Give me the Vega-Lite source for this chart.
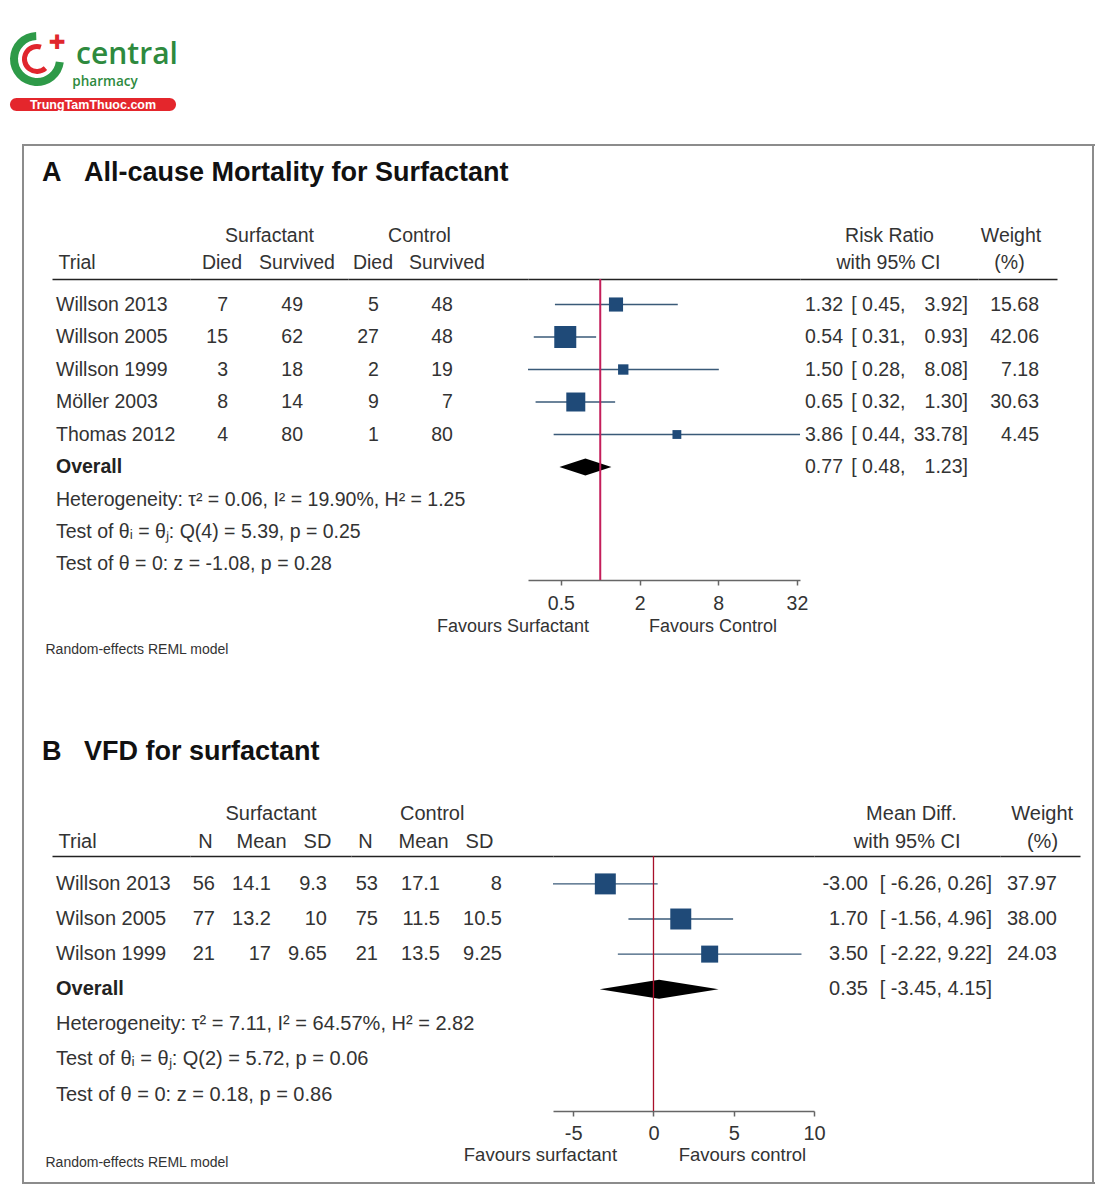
{
"$schema":"https://vega.github.io/schema/vega-lite/v6.json",
"padding":{"left":10,"top":32,"right":0,"bottom":0},
"background":"white",
"config":{"font":"Liberation Sans","view":{"stroke":null},"axis":{"grid":false},"text":{"color":"#333","fontSize":19.5}},
"datasets":{
"A":[
{"row":1,"label":"Willson 2013","sd":7,"ss":49,"cd":5,"cs":48,"rr":1.32,"lo":0.45,"hi":3.92,"w":15.68},
{"row":2,"label":"Willson 2005","sd":15,"ss":62,"cd":27,"cs":48,"rr":0.54,"lo":0.31,"hi":0.93,"w":42.06},
{"row":3,"label":"Willson 1999","sd":3,"ss":18,"cd":2,"cs":19,"rr":1.50,"lo":0.28,"hi":8.08,"w":7.18},
{"row":4,"label":"Möller 2003","sd":8,"ss":14,"cd":9,"cs":7,"rr":0.65,"lo":0.32,"hi":1.30,"w":30.63},
{"row":5,"label":"Thomas 2012","sd":4,"ss":80,"cd":1,"cs":80,"rr":3.86,"lo":0.44,"hi":33.78,"w":4.45},
{"row":6,"label":"Overall","rr":0.77,"lo":0.48,"hi":1.23},
{"row":7,"label":"Heterogeneity: \u03c4\u00b2 = 0.06, I\u00b2 = 19.90%, H\u00b2 = 1.25"},
{"row":8,"label":"Test of \u03b8\u1d62 = \u03b8\u2c7c: Q(4) = 5.39, p = 0.25"},
{"row":9,"label":"Test of \u03b8 = 0: z = -1.08, p = 0.28"}
],
"B":[
{"row":1,"label":"Willson 2013","n1":56,"m1":14.1,"s1":9.3,"n2":53,"m2":17.1,"s2":8,"md":-3.00,"lo":-6.26,"hi":0.26,"w":37.97},
{"row":2,"label":"Wilson 2005","n1":77,"m1":13.2,"s1":10,"n2":75,"m2":11.5,"s2":10.5,"md":1.70,"lo":-1.56,"hi":4.96,"w":38.00},
{"row":3,"label":"Wilson 1999","n1":21,"m1":17,"s1":9.65,"n2":21,"m2":13.5,"s2":9.25,"md":3.50,"lo":-2.22,"hi":9.22,"w":24.03},
{"row":4,"label":"Overall","md":0.35,"lo":-3.45,"hi":4.15},
{"row":5,"label":"Heterogeneity: \u03c4\u00b2 = 7.11, I\u00b2 = 64.57%, H\u00b2 = 2.82"},
{"row":6,"label":"Test of \u03b8\u1d62 = \u03b8\u2c7c: Q(2) = 5.72, p = 0.06"},
{"row":7,"label":"Test of \u03b8 = 0: z = 0.18, p = 0.86"}
]
},
"spacing":32,
"vconcat":[
{"spacing":9,"vconcat":[
 {"spacing":6,"hconcat":[
  {"width":54,"height":54,"data":{"values":[{}]},"layer":[
    {"mark":{"type":"arc","theta":1.7,"theta2":6.25,"radius":27,"radius2":19,"color":"#2e9a48"},"encoding":{}},
    {"mark":{"type":"arc","theta":2.4,"theta2":6.6,"radius":15,"radius2":10,"color":"#e0262d"},"encoding":{}},
    {"mark":{"type":"text","text":"✚","font":"DejaVu Sans","fontSize":20,"color":"#e0262d","align":"center","baseline":"middle","dx":20,"dy":-16},"encoding":{}}
  ]},
  {"width":110,"height":54,"data":{"values":[{}]},"layer":[
    {"mark":{"type":"text","text":"central","font":"Open Sans","fontWeight":600,"fontSize":30,"color":"#2e8a3e","align":"center","baseline":"alphabetic","dy":5},"encoding":{}},
    {"mark":{"type":"text","text":"pharmacy","font":"Open Sans","fontWeight":600,"fontSize":13.5,"color":"#2e8a3e","align":"center","baseline":"alphabetic","dx":-22,"dy":27},"encoding":{}}
  ]}
 ]},
 {"width":166,"height":13,"view":{"fill":"#e4262c","cornerRadius":6.5},"data":{"values":[{}]},"mark":{"type":"text","text":"TrungTamThuoc.com","color":"white","fontWeight":"bold","fontSize":12.5,"align":"center","baseline":"middle","dy":0.5},"encoding":{}}
]},
{"spacing":10,"hconcat":[
 {"width":2,"height":1,"data":{"values":[]},"mark":"rect","encoding":{}},
 {"spacing":0,"vconcat":[
  {"width":1073,"height":2,"data":{"values":[{}]},"mark":{"type":"rect","color":"#8c8c8c"},"encoding":{}},
  {"spacing":18,"hconcat":[
   {"width":2,"height":1036,"data":{"values":[{}]},"mark":{"type":"rect","color":"#8c8c8c"},"encoding":{}},
   {"spacing":12,"hconcat":[
    {"spacing":12,"vconcat":[
     {"width":1,"height":1,"data":{"values":[]},"mark":"rect","encoding":{}},
     {"spacing":82,"vconcat":[
      {"title":{"text":"A\u00a0\u00a0\u00a0All-cause Mortality for Surfactant","anchor":"start","frame":"group","dx":-10,"offset":38,"fontSize":27,"fontWeight":"bold","color":"#111"},
       "spacing":0,"bounds":"flush",
       "hconcat":[
        {"width":138,"height":301,"data":{"name":"A"},"resolve":{"axis":{"x":"independent"}},
         "layer":[
          {"transform":[{"filter":"datum.label !== 'Overall'"}],
           "mark":{"type":"text","align":"left","baseline":"middle","dx":4},
           "encoding":{
            "x":{"datum":"Trial","type":"nominal","scale":{"type":"point","domain":["Trial"],"align":0,"padding":0},
                 "axis":{"orient":"top","ticks":false,"tickSize":0,"domain":true,"domainColor":"#222","domainWidth":1.6,"labelPadding":11,"labelBaseline":"alphabetic","labelAngle":0,"labelOverlap":false,"labelFontSize":19.5,"labelColor":"#333","labelAlign":"left","labelOffset":6,"title":null,"grid":false}},
            "y":{"field":"row","type":"quantitative","scale":{"domain":[0.215,9.477],"reverse":true,"nice":false,"zero":false},"axis":null},
            "text":{"field":"label","type":"nominal"}}},
          {"transform":[{"filter":"datum.label === 'Overall'"}],
           "mark":{"type":"text","align":"left","baseline":"middle","dx":4,"fontWeight":"bold","color":"#222"},
           "encoding":{
            "x":{"datum":"Trial","type":"nominal","scale":{"type":"point","domain":["Trial"],"align":0,"padding":0},
                 "axis":{"orient":"bottom","labels":false,"ticks":false,"domain":false,"grid":false,"title":"Random-effects REML model","titleFontSize":14,"titleFontWeight":"normal","titleColor":"#333","titleX":-7,"titleY":73,"titleAlign":"left","titleBaseline":"alphabetic"}},
            "y":{"field":"row","type":"quantitative","scale":{"domain":[0.215,9.477],"reverse":true,"nice":false,"zero":false},"axis":null},
            "text":{"field":"label","type":"nominal"}}}
         ]},
        {"width":158,"height":301,"data":{"name":"A"},
         "transform":[{"filter":"isValid(datum.sd)"},{"fold":["sd","ss"],"as":["col","val"]}],
         "mark":{"type":"text","align":"right","baseline":"middle"},
         "encoding":{
          "x":{"field":"col","type":"nominal","scale":{"type":"point","domain":["sd","ss"],"padding":0.553,"align":0.458},
               "axis":{"orient":"top","ticks":false,"tickSize":0,"domain":true,"domainColor":"#222","domainWidth":1.6,"labelPadding":11,"labelBaseline":"alphabetic","labelAngle":0,"labelOverlap":false,"labelFontSize":19.5,"labelColor":"#333","titleFontSize":19.5,"titleFontWeight":"normal","titleColor":"#333","titleBaseline":"alphabetic","titleAlign":"center","titleY":-38,"grid":false,
                       "labelExpr":"datum.value === 'sd' ? 'Died' : 'Survived'","labelOffset":-6.5,"title":"Surfactant","titleX":79}},
          "y":{"field":"row","type":"quantitative","scale":{"domain":[0.215,9.477],"reverse":true,"nice":false,"zero":false},"axis":null},
          "text":{"field":"val","type":"nominal"}}},
        {"width":180,"height":301,"data":{"name":"A"},
         "transform":[{"filter":"isValid(datum.cd)"},{"fold":["cd","cs"],"as":["col","val"]}],
         "mark":{"type":"text","align":"right","baseline":"middle"},
         "encoding":{
          "x":{"field":"col","type":"nominal","scale":{"type":"point","domain":["cd","cs"],"padding":0.716,"align":0.292},
               "axis":{"orient":"top","ticks":false,"tickSize":0,"domain":true,"domainColor":"#222","domainWidth":1.6,"labelPadding":11,"labelBaseline":"alphabetic","labelAngle":0,"labelOverlap":false,"labelFontSize":19.5,"labelColor":"#333","titleFontSize":19.5,"titleFontWeight":"normal","titleColor":"#333","titleBaseline":"alphabetic","titleAlign":"center","titleY":-38,"grid":false,
                       "labelExpr":"datum.value === 'cd' ? 'Died' : 'Survived'","labelOffset":-6.5,"title":"Control","titleX":71}},
          "y":{"field":"row","type":"quantitative","scale":{"domain":[0.215,9.477],"reverse":true,"nice":false,"zero":false},"axis":null},
          "text":{"field":"val","type":"nominal"}}},
        {"width":272,"height":301,"data":{"name":"A"},"resolve":{"axis":{"x":"independent"}},
         "layer":[
          {"transform":[{"filter":"isValid(datum.w)"}],
           "mark":{"type":"rule","color":"#3a5a78","strokeWidth":1.3},
           "encoding":{
            "x":{"field":"lo","type":"quantitative","scale":{"type":"log","domain":[0.28,33.78],"nice":false},
                 "axis":{"orient":"bottom","values":[0.5,2,8,32],"format":"~g","ticks":true,"tickSize":5,"tickColor":"#666","tickWidth":1.5,"domain":true,"domainColor":"#666","domainWidth":1.5,"labelPadding":24,"labelBaseline":"alphabetic","labelFlush":false,"labelFontSize":19.5,"labelColor":"#333","labelOverlap":false,"grid":false,
                         "title":"Favours Surfactant\u00a0\u00a0\u00a0\u00a0\u00a0\u00a0\u00a0\u00a0\u00a0\u00a0\u00a0\u00a0Favours Control","titleFontSize":18,"titleFontWeight":"normal","titleColor":"#333","titleX":78.5,"titleY":51,"titleAlign":"center","titleBaseline":"alphabetic"}},
            "x2":{"field":"hi"},
            "y":{"field":"row","type":"quantitative","scale":{"domain":[0.215,9.477],"reverse":true,"nice":false,"zero":false},"axis":null}}},
          {"transform":[{"filter":"isValid(datum.w)"}],
           "mark":{"type":"point","shape":"square","filled":true,"opacity":1,"color":"#1f4a78"},
           "encoding":{
            "x":{"field":"rr","type":"quantitative","scale":{"type":"log","domain":[0.28,33.78],"nice":false},"axis":null},
            "y":{"field":"row","type":"quantitative","scale":{"domain":[0.215,9.477],"reverse":true,"nice":false,"zero":false},"axis":null},
            "size":{"field":"w","type":"quantitative","scale":{"domain":[0,42.06],"range":[30,484]},"legend":null}}},
          {"transform":[{"filter":"datum.label === 'Overall'"}],
           "mark":{"type":"point","shape":"M-1,0L0,-0.33L1,0L0,0.33Z","filled":true,"opacity":1,"color":"#000","size":2704},
           "encoding":{
            "x":{"field":"rr","type":"quantitative","scale":{"type":"log","domain":[0.28,33.78],"nice":false},"axis":null},
            "y":{"field":"row","type":"quantitative","scale":{"domain":[0.215,9.477],"reverse":true,"nice":false,"zero":false},"axis":null}}},
          {"data":{"values":[{}]},
           "mark":{"type":"rule","color":"#c41e5a","strokeWidth":2},
           "encoding":{
            "x":{"datum":1,"type":"quantitative","scale":{"type":"log","domain":[0.28,33.78],"nice":false},
                 "axis":{"orient":"top","labels":false,"ticks":false,"domain":true,"domainColor":"#222","domainWidth":1.6,"title":null,"grid":false}}}}
         ]},
        {"width":178,"height":301,"data":{"name":"A"},
         "transform":[{"filter":"isValid(datum.rr)"},{"calculate":"'[ ' + format(datum.lo, '.2f') + ','","as":"loTxt"},{"calculate":"format(datum.hi, '.2f') + ']'","as":"hiTxt"}],
         "layer":[
          {"mark":{"type":"text","align":"right","baseline":"middle"},
           "encoding":{
            "x":{"datum":"est","type":"nominal","scale":{"type":"point","domain":["est","lo","hi"],"padding":0.424,"align":0.811},
                 "axis":{"orient":"top","ticks":false,"tickSize":0,"domain":true,"domainColor":"#222","domainWidth":1.6,"labelPadding":11,"labelBaseline":"alphabetic","labelAngle":0,"labelOverlap":false,"labelFontSize":19.5,"labelColor":"#333","titleFontSize":19.5,"titleFontWeight":"normal","titleColor":"#333","titleBaseline":"alphabetic","titleAlign":"center","titleY":-38,"grid":false,
                         "labelExpr":"datum.value === 'lo' ? 'with 95% CI' : ''","labelOffset":-17.5,"title":"Risk Ratio","titleX":89}},
            "y":{"field":"row","type":"quantitative","scale":{"domain":[0.215,9.477],"reverse":true,"nice":false,"zero":false},"axis":null},
            "text":{"field":"rr","type":"quantitative","format":".2f"}}},
          {"mark":{"type":"text","align":"right","baseline":"middle"},
           "encoding":{
            "x":{"datum":"lo","type":"nominal","scale":{"type":"point","domain":["est","lo","hi"],"padding":0.424,"align":0.811}},
            "y":{"field":"row","type":"quantitative","scale":{"domain":[0.215,9.477],"reverse":true,"nice":false,"zero":false},"axis":null},
            "text":{"field":"loTxt","type":"nominal"}}},
          {"mark":{"type":"text","align":"right","baseline":"middle"},
           "encoding":{
            "x":{"datum":"hi","type":"nominal","scale":{"type":"point","domain":["est","lo","hi"],"padding":0.424,"align":0.811}},
            "y":{"field":"row","type":"quantitative","scale":{"domain":[0.215,9.477],"reverse":true,"nice":false,"zero":false},"axis":null},
            "text":{"field":"hiTxt","type":"nominal"}}}
         ]},
        {"width":79,"height":301,"data":{"name":"A"},
         "transform":[{"filter":"isValid(datum.w)"}],
         "mark":{"type":"text","align":"right","baseline":"middle"},
         "encoding":{
          "x":{"datum":"w","type":"nominal","scale":{"type":"point","domain":["w"],"align":0.772,"padding":0},
               "axis":{"orient":"top","ticks":false,"tickSize":0,"domain":true,"domainColor":"#222","domainWidth":1.6,"labelPadding":11,"labelBaseline":"alphabetic","labelAngle":0,"labelOverlap":false,"labelFontSize":19.5,"labelColor":"#333","titleFontSize":19.5,"titleFontWeight":"normal","titleColor":"#333","titleBaseline":"alphabetic","titleAlign":"center","titleY":-38,"grid":false,
                       "labelExpr":"'(%)'","labelOffset":-30,"title":"Weight","titleX":32.5}},
          "y":{"field":"row","type":"quantitative","scale":{"domain":[0.215,9.477],"reverse":true,"nice":false,"zero":false},"axis":null},
          "text":{"field":"w","type":"quantitative","format":".2f"}}}
       ]},
      {"title":{"text":"B\u00a0\u00a0\u00a0VFD for surfactant","anchor":"start","frame":"group","dx":-10,"offset":37,"fontSize":27,"fontWeight":"bold","color":"#111"},
       "spacing":0,"bounds":"flush",
       "hconcat":[
        {"width":138,"height":255,"data":{"name":"B"},"resolve":{"axis":{"x":"independent"}},
         "layer":[
          {"transform":[{"filter":"datum.label !== 'Overall'"}],
           "mark":{"type":"text","align":"left","baseline":"middle","dx":4,"fontSize":20},
           "encoding":{
            "x":{"datum":"Trial","type":"nominal","scale":{"type":"point","domain":["Trial"],"align":0,"padding":0},
                 "axis":{"orient":"top","ticks":false,"tickSize":0,"domain":true,"domainColor":"#222","domainWidth":1.6,"labelPadding":9,"labelBaseline":"alphabetic","labelAngle":0,"labelOverlap":false,"labelFontSize":20,"labelColor":"#333","labelAlign":"left","labelOffset":6,"title":null,"grid":false}},
            "y":{"field":"row","type":"quantitative","scale":{"domain":[0.205,7.47],"reverse":true,"nice":false,"zero":false},"axis":null},
            "text":{"field":"label","type":"nominal"}}},
          {"transform":[{"filter":"datum.label === 'Overall'"}],
           "mark":{"type":"text","align":"left","baseline":"middle","dx":4,"fontSize":20,"fontWeight":"bold","color":"#222"},
           "encoding":{
            "x":{"datum":"Trial","type":"nominal","scale":{"type":"point","domain":["Trial"],"align":0,"padding":0},
                 "axis":{"orient":"bottom","labels":false,"ticks":false,"domain":false,"grid":false,"title":"Random-effects REML model","titleFontSize":14,"titleFontWeight":"normal","titleColor":"#333","titleX":-7,"titleY":55,"titleAlign":"left","titleBaseline":"alphabetic"}},
            "y":{"field":"row","type":"quantitative","scale":{"domain":[0.205,7.47],"reverse":true,"nice":false,"zero":false},"axis":null},
            "text":{"field":"label","type":"nominal"}}}
         ]},
        {"width":161,"height":255,"data":{"name":"B"},
         "transform":[{"filter":"isValid(datum.n1)"},{"fold":["n1","m1","s1"],"as":["col","val"]}],
         "mark":{"type":"text","align":"right","baseline":"middle","fontSize":20},
         "encoding":{
          "x":{"field":"col","type":"nominal","scale":{"type":"point","domain":["n1","m1","s1"],"padding":0.4375,"align":0.51},
               "axis":{"orient":"top","ticks":false,"tickSize":0,"domain":true,"domainColor":"#222","domainWidth":1.6,"labelPadding":9,"labelBaseline":"alphabetic","labelAngle":0,"labelOverlap":false,"labelFontSize":20,"labelColor":"#333","titleFontSize":20,"titleFontWeight":"normal","titleColor":"#333","titleBaseline":"alphabetic","titleAlign":"center","titleY":-37,"grid":false,
                       "labelExpr":"datum.value === 'n1' ? 'N' : datum.value === 'm1' ? 'Mean' : 'SD'","labelOffset":-10,"title":"Surfactant","titleX":80.5}},
          "y":{"field":"row","type":"quantitative","scale":{"domain":[0.205,7.47],"reverse":true,"nice":false,"zero":false},"axis":null},
          "text":{"field":"val","type":"nominal"}}},
        {"width":202,"height":255,"data":{"name":"B"},
         "transform":[{"filter":"isValid(datum.n2)"},{"fold":["n2","m2","s2"],"as":["col","val"]}],
         "mark":{"type":"text","align":"right","baseline":"middle","fontSize":20},
         "encoding":{
          "x":{"field":"col","type":"nominal","scale":{"type":"point","domain":["n2","m2","s2"],"padding":0.629,"align":0.346},
               "axis":{"orient":"top","ticks":false,"tickSize":0,"domain":true,"domainColor":"#222","domainWidth":1.6,"labelPadding":9,"labelBaseline":"alphabetic","labelAngle":0,"labelOverlap":false,"labelFontSize":20,"labelColor":"#333","titleFontSize":20,"titleFontWeight":"normal","titleColor":"#333","titleBaseline":"alphabetic","titleAlign":"center","titleY":-37,"grid":false,
                       "labelExpr":"datum.value === 'n2' ? 'N' : datum.value === 'm2' ? 'Mean' : 'SD'",
                       "labelOffset":{"condition":[{"test":"datum.value === 'n2'","value":-13},{"test":"datum.value === 'm2'","value":-17}],"value":-23},
                       "title":"Control","titleX":80.7}},
          "y":{"field":"row","type":"quantitative","scale":{"domain":[0.205,7.47],"reverse":true,"nice":false,"zero":false},"axis":null},
          "text":{"field":"val","type":"nominal"}}},
        {"width":261,"height":255,"data":{"name":"B"},"resolve":{"axis":{"x":"independent"}},
         "layer":[
          {"transform":[{"filter":"isValid(datum.w)"}],
           "mark":{"type":"rule","color":"#3a5a78","strokeWidth":1.3},
           "encoding":{
            "x":{"field":"lo","type":"quantitative","scale":{"domain":[-6.26,10],"nice":false,"zero":false},
                 "axis":{"orient":"bottom","values":[-5,0,5,10],"labelExpr":"'' + datum.value","ticks":true,"tickSize":5,"tickColor":"#666","tickWidth":1.5,"domain":true,"domainColor":"#666","domainWidth":1.5,"labelPadding":23,"labelBaseline":"alphabetic","labelFlush":false,"labelFontSize":20,"labelColor":"#333","labelOverlap":false,"grid":false,
                         "title":"Favours surfactant\u00a0\u00a0\u00a0\u00a0\u00a0\u00a0\u00a0\u00a0\u00a0\u00a0\u00a0\u00a0Favours control","titleFontSize":18.5,"titleFontWeight":"normal","titleColor":"#333","titleX":81.5,"titleY":49,"titleAlign":"center","titleBaseline":"alphabetic"}},
            "x2":{"field":"hi"},
            "y":{"field":"row","type":"quantitative","scale":{"domain":[0.205,7.47],"reverse":true,"nice":false,"zero":false},"axis":null}}},
          {"transform":[{"filter":"isValid(datum.w)"}],
           "mark":{"type":"point","shape":"square","filled":true,"opacity":1,"color":"#1f4a78"},
           "encoding":{
            "x":{"field":"md","type":"quantitative","scale":{"domain":[-6.26,10],"nice":false,"zero":false},"axis":null},
            "y":{"field":"row","type":"quantitative","scale":{"domain":[0.205,7.47],"reverse":true,"nice":false,"zero":false},"axis":null},
            "size":{"field":"w","type":"quantitative","scale":{"domain":[0,38],"range":[30,484]},"legend":null}}},
          {"transform":[{"filter":"datum.label === 'Overall'"}],
           "mark":{"type":"point","shape":"M-1,0L0,-0.16L1,0L0,0.16Z","filled":true,"opacity":1,"color":"#000","size":14161},
           "encoding":{
            "x":{"field":"md","type":"quantitative","scale":{"domain":[-6.26,10],"nice":false,"zero":false},"axis":null},
            "y":{"field":"row","type":"quantitative","scale":{"domain":[0.205,7.47],"reverse":true,"nice":false,"zero":false},"axis":null}}},
          {"data":{"values":[{}]},
           "mark":{"type":"rule","color":"#a8102a","strokeWidth":1.3},
           "encoding":{
            "x":{"datum":0,"type":"quantitative","scale":{"domain":[-6.26,10],"nice":false,"zero":false},
                 "axis":{"orient":"top","labels":false,"ticks":false,"domain":true,"domainColor":"#222","domainWidth":1.6,"title":null,"grid":false}}}}
         ]},
        {"width":186,"height":255,"data":{"name":"B"},
         "transform":[{"filter":"isValid(datum.md)"},
                      {"calculate":"replace(format(datum.md, '.2f'), '\u2212', '-')","as":"estTxt"},
                      {"calculate":"'[ ' + replace(format(datum.lo, '.2f'), '\u2212', '-') + ', ' + replace(format(datum.hi, '.2f'), '\u2212', '-') + ']'","as":"ciTxt"}],
         "layer":[
          {"mark":{"type":"text","align":"right","baseline":"middle","fontSize":20},
           "encoding":{
            "x":{"datum":"est","type":"nominal","scale":{"type":"point","domain":["est","ci"],"padding":0.25,"align":0.871},
                 "axis":{"orient":"top","ticks":false,"tickSize":0,"domain":true,"domainColor":"#222","domainWidth":1.6,"labelPadding":9,"labelBaseline":"alphabetic","labelAngle":0,"labelOverlap":false,"labelFontSize":20,"labelColor":"#333","titleFontSize":20,"titleFontWeight":"normal","titleColor":"#333","titleBaseline":"alphabetic","titleAlign":"center","titleY":-37,"grid":false,
                         "labelExpr":"datum.value === 'est' ? 'with 95% CI' : ''","labelOffset":38.7,"title":"Mean Diff.","titleX":97}},
            "y":{"field":"row","type":"quantitative","scale":{"domain":[0.205,7.47],"reverse":true,"nice":false,"zero":false},"axis":null},
            "text":{"field":"estTxt","type":"nominal"}}},
          {"mark":{"type":"text","align":"right","baseline":"middle","fontSize":20},
           "encoding":{
            "x":{"datum":"ci","type":"nominal","scale":{"type":"point","domain":["est","ci"],"padding":0.25,"align":0.871}},
            "y":{"field":"row","type":"quantitative","scale":{"domain":[0.205,7.47],"reverse":true,"nice":false,"zero":false},"axis":null},
            "text":{"field":"ciTxt","type":"nominal"}}}
         ]},
        {"width":80,"height":255,"data":{"name":"B"},
         "transform":[{"filter":"isValid(datum.w)"}],
         "mark":{"type":"text","align":"right","baseline":"middle","fontSize":20},
         "encoding":{
          "x":{"datum":"w","type":"nominal","scale":{"type":"point","domain":["w"],"align":0.7125,"padding":0},
               "axis":{"orient":"top","ticks":false,"tickSize":0,"domain":true,"domainColor":"#222","domainWidth":1.6,"labelPadding":9,"labelBaseline":"alphabetic","labelAngle":0,"labelOverlap":false,"labelFontSize":20,"labelColor":"#333","titleFontSize":20,"titleFontWeight":"normal","titleColor":"#333","titleBaseline":"alphabetic","titleAlign":"center","titleY":-37,"grid":false,
                       "labelExpr":"'(%)'","labelOffset":-15,"title":"Weight","titleX":41.7}},
          "y":{"field":"row","type":"quantitative","scale":{"domain":[0.205,7.47],"reverse":true,"nice":false,"zero":false},"axis":null},
          "text":{"field":"w","type":"quantitative","format":".2f"}}}
       ]}
     ]}
    ]},
    {"width":2,"height":1036,"data":{"values":[{}]},"mark":{"type":"rect","color":"#8c8c8c"},"encoding":{}}
   ]}
  ]},
  {"width":1073,"height":2,"data":{"values":[{}]},"mark":{"type":"rect","color":"#8c8c8c"},"encoding":{}}
 ]}
]}
]
}
